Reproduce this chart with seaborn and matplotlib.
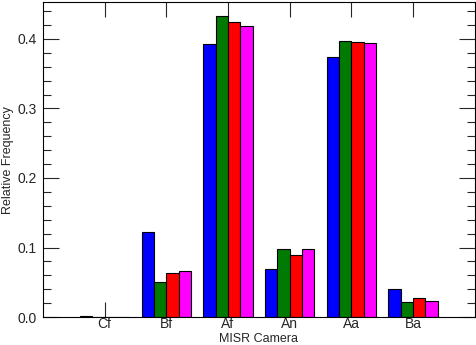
import numpy as np
import pandas as pd
import matplotlib
matplotlib.use("Agg")
import matplotlib.pyplot as plt
import seaborn as sns
from matplotlib.ticker import MultipleLocator

cameras = ["Cf", "Bf", "Af", "An", "Aa", "Ba"]
series = ["s1", "s2", "s3", "s4"]
colors = ["#0000ff", "#007a00", "#ff0000", "#ff00ff"]

s1 = [0.0008, 0.123, 0.393, 0.069, 0.374, 0.041]
s2 = [0.0002, 0.051, 0.433, 0.098, 0.397, 0.022]
s3 = [0.0003, 0.063, 0.424, 0.089, 0.396, 0.028]
s4 = [0.0003, 0.066, 0.419, 0.098, 0.394, 0.0235]

df = pd.DataFrame({
    "camera": cameras * 4,
    "series": np.repeat(series, len(cameras)),
    "freq": s1 + s2 + s3 + s4,
})

sns.set_style("ticks")
plt.rcParams["font.family"] = ["Liberation Sans", "DejaVu Sans"]

fig = plt.figure(figsize=(4.77, 3.45), dpi=100)
ax = fig.add_axes([0.090, 0.081, 0.905, 0.913])

sns.barplot(data=df, x="camera", y="freq", hue="series", palette=colors,
            width=0.8, edgecolor="black", linewidth=0.8, saturation=1,
            legend=False, ax=ax)

ax.set_xlim(-1, 6)
ax.set_ylim(0, 0.453)
ax.yaxis.set_major_locator(MultipleLocator(0.1))
ax.yaxis.set_minor_locator(MultipleLocator(0.02))
ax.yaxis.set_major_formatter(matplotlib.ticker.FormatStrFormatter("%.1f"))

ax.tick_params(axis="y", which="major", direction="in", length=11.5, width=0.8,
               left=True, right=True, labelsize=10, pad=4.5)
ax.tick_params(axis="y", which="minor", direction="in", length=5.8, width=0.8,
               left=True, right=True)
ax.tick_params(axis="x", which="major", direction="in", length=11, width=0.8,
               top=True, bottom=True, labelsize=10, pad=0.3)

for s in ax.spines.values():
    s.set_visible(True)
    s.set_linewidth(0.8)
    s.set_color("black")

ax.set_xlabel("MISR Camera", fontsize=9)
ax.set_ylabel("Relative Frequency", fontsize=9)
ax.xaxis.set_label_coords(0.5, -0.051)
ax.yaxis.set_label_coords(-0.067, 0.5)

fig.savefig("out.png", dpi=100)
